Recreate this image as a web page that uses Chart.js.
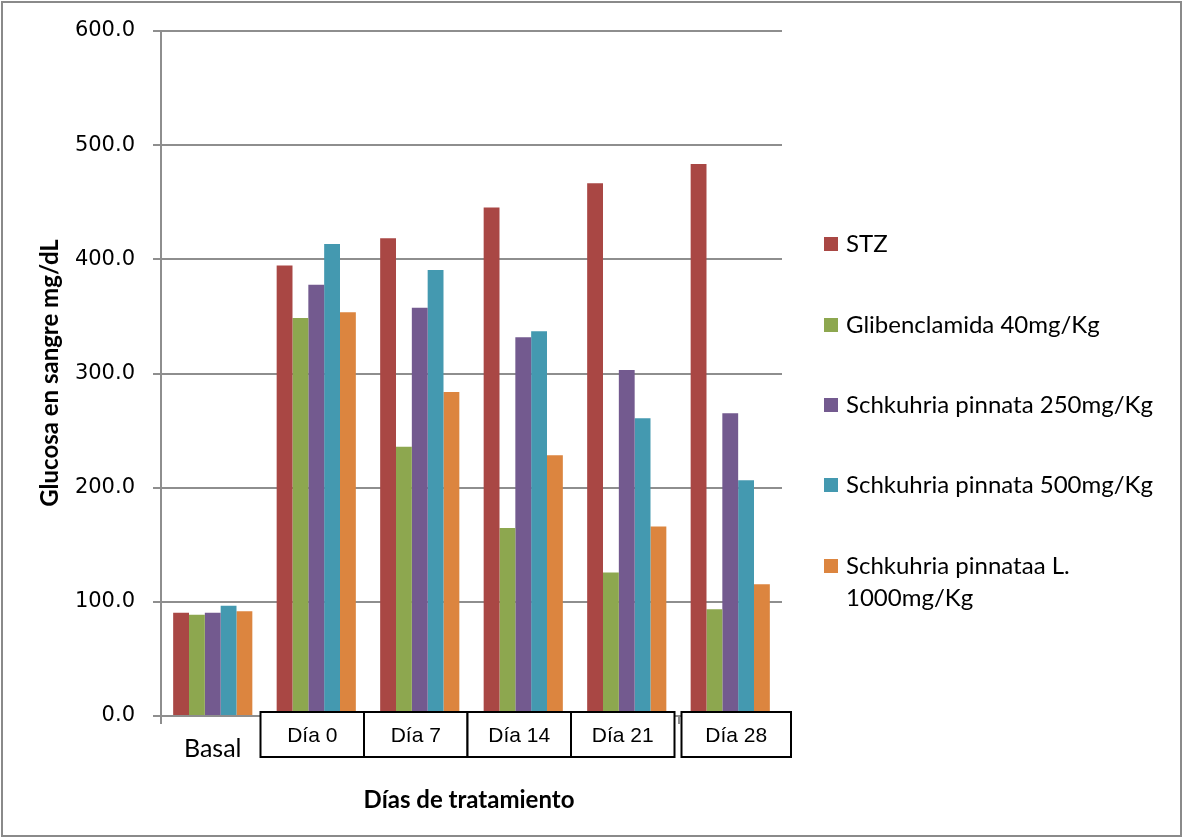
<!DOCTYPE html>
<html>
<head>
<meta charset="utf-8">
<script src="https://cdn.jsdelivr.net/npm/chart.js@4/dist/chart.umd.min.js"></script>
<style>
  html, body { margin: 0; padding: 0; background: #ffffff; }
  #wrap { width: 1184px; height: 839px; position: relative; }
</style>
</head>
<body>
<div id="wrap"><canvas id="c" width="1184" height="839"></canvas></div>
<script>
// Blood glucose (mg/dL) per treatment group across treatment days
const categories = ['Basal', 'Día 0', 'Día 7', 'Día 14', 'Día 21', 'Día 28'];
const seriesNames = [
  'STZ',
  'Glibenclamida 40mg/Kg',
  'Schkuhria pinnata 250mg/Kg',
  'Schkuhria pinnata 500mg/Kg',
  'Schkuhria pinnataa L. 1000mg/Kg'
];
const stz      = [90.5, 394.7, 418.4, 445.5, 466.7, 483.5];
const glib40   = [88.7, 348.6, 235.9, 164.7, 125.8, 93.6];
const sp250    = [90.5, 377.8, 357.6, 331.7, 303.0, 265.2];
const sp500    = [96.6, 413.4, 390.6, 336.9, 260.8, 206.6];
const sp1000   = [91.7, 353.6, 283.8, 228.3, 166.0, 115.5];
const yTicks   = [0, 100, 200, 300, 400, 500, 600];
const seriesColors = ['#A94744', '#8DA74F', '#735A8F', '#4499B0', '#DC853F'];

const yTitle = 'Glucosa en sangre mg/dL';
const xTitle = 'Días de tratamiento';

const seriesData = [stz, glib40, sp250, sp500, sp1000];
const gridColor = '#8e8e8e';

const datasets = seriesData.map((vals, i) => ({
  label: seriesNames[i],
  data: vals,
  backgroundColor: seriesColors[i],
  borderWidth: 0,
  barPercentage: 1.0,
  categoryPercentage: 0.765
}));

function wrapWords(ctx, text, maxW) {
  const words = text.split(' ');
  const lines = [];
  let cur = '';
  for (const w of words) {
    const test = cur ? cur + ' ' + w : w;
    if (ctx.measureText(test).width > maxW && cur) {
      lines.push(cur);
      cur = w;
    } else {
      cur = test;
    }
  }
  if (cur) lines.push(cur);
  return lines;
}

const decorations = {
  id: 'decorations',
  afterDraw(chart) {
    const ctx = chart.ctx;
    const xs = chart.scales.x;
    ctx.save();

    // outer frame
    ctx.strokeStyle = '#8a8a8a';
    ctx.lineWidth = 2;
    ctx.strokeRect(2, 2, 1179, 834);

    // boxed day labels
    const catW = xs.width / categories.length;
    ctx.font = '21px "Liberation Sans", Arial, sans-serif';
    ctx.textAlign = 'center';
    ctx.textBaseline = 'middle';
    for (let i = 1; i < categories.length; i++) {
      const last = i === categories.length - 1;
      const cx = xs.getPixelForValue(i) + (last ? 6 : -4);
      const w = last ? catW + 6 : catW;
      const left = cx - w / 2;
      ctx.fillStyle = '#ffffff';
      ctx.fillRect(left, 712, w, 45);
      ctx.strokeStyle = '#000000';
      ctx.lineWidth = 2;
      ctx.strokeRect(left, 712, w, 45);
      ctx.fillStyle = '#000000';
      ctx.fillText(categories[i], cx, 736);
    }

    // axis titles
    ctx.fillStyle = '#000000';
    ctx.font = 'bold 24px Lato, "Open Sans", sans-serif';
    ctx.textAlign = 'center';
    ctx.textBaseline = 'middle';
    ctx.fillText(xTitle, 469, 800);
    ctx.save();
    ctx.translate(50, 373);
    ctx.rotate(-Math.PI / 2);
    ctx.fillText(yTitle, 0, 0);
    ctx.restore();

    // legend
    ctx.font = '24px Lato, "Open Sans", sans-serif';
    ctx.textAlign = 'left';
    ctx.textBaseline = 'middle';
    const legendX = 824;
    const textX = 846;
    const rowY = [244, 325, 405, 485, 566];
    seriesNames.forEach((name, i) => {
      ctx.fillStyle = seriesColors[i];
      ctx.fillRect(legendX, rowY[i] - 7, 14, 14);
      ctx.fillStyle = '#000000';
      const lines = wrapWords(ctx, name, 320);
      lines.forEach((ln, k) => ctx.fillText(ln, textX, rowY[i] + k * 32));
    });
    ctx.restore();
  }
};

new Chart(document.getElementById('c'), {
  type: 'bar',
  data: { labels: categories, datasets },
  options: {
    responsive: false,
    animation: false,
    devicePixelRatio: 1,
    layout: { padding: { left: 0, top: 31, right: 402, bottom: 0 } },
    plugins: {
      legend: { display: false },
      tooltip: { enabled: false }
    },
    scales: {
      x: {
        afterFit(scale) { scale.height = 123; },
        grid: {
          display: true,
          drawOnChartArea: false,
          drawTicks: true,
          tickLength: 8,
          color: gridColor,
          lineWidth: 2,
          offset: true
        },
        border: { display: true, color: gridColor, width: 2 },
        ticks: {
          color: '#000000',
          padding: 10,
          font: { family: 'Lato, "Open Sans", sans-serif', size: 25 }
        }
      },
      y: {
        min: 0,
        max: 600,
        afterFit(scale) { scale.width = 161; },
        afterBuildTicks(scale) { scale.ticks = yTicks.map(v => ({ value: v })); },
        grid: {
          color: gridColor,
          lineWidth: 2,
          tickLength: 8,
          drawTicks: true
        },
        border: { display: true, color: gridColor, width: 2 },
        ticks: {
          color: '#000000',
          padding: 18,
          font: { family: '"DejaVu Sans", Verdana, sans-serif', size: 21 },
          callback: v => Number(v).toFixed(1)
        }
      }
    }
  },
  plugins: [decorations]
});
</script>
</body>
</html>
